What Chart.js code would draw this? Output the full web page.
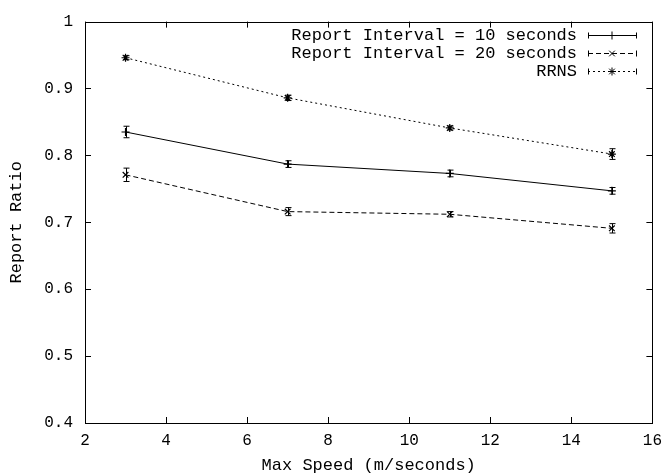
<!DOCTYPE html>
<html>
<head>
<meta charset="utf-8">
<script src="https://cdn.jsdelivr.net/npm/chart.js@4/dist/chart.umd.min.js"></script>
<style>
  html, body { margin: 0; padding: 0; background: #fff; }
  #c { display: block; }
</style>
</head>
<body>
<canvas id="c" width="670" height="476"></canvas>
<script>
const speeds = [3, 7, 11, 15];
const xTicks = [2, 4, 6, 8, 10, 12, 14, 16];
const yTicks = [0.4, 0.5, 0.6, 0.7, 0.8, 0.9, 1];

const interval10 = [0.835, 0.787, 0.773, 0.747];
const interval10Err = [0.0086, 0.005, 0.005, 0.005];
const interval20 = [0.771, 0.716, 0.712, 0.691];
const interval20Err = [0.01, 0.006, 0.004, 0.007];
const rrns = [0.946, 0.886, 0.841, 0.802];
const rrnsErr = [0.003, 0.004, 0.003, 0.008];

const labels = ["Report Interval = 10 seconds", "Report Interval = 20 seconds", "RRNS"];

const mono = "'Liberation Mono', 'Courier New', monospace";
const ink = "#000";

const series = [
  { label: labels[0], y: interval10, err: interval10Err, dash: [], style: "cross" },
  { label: labels[1], y: interval20, err: interval20Err, dash: [5, 3], style: "crossRot" },
  { label: labels[2], y: rrns, err: rrnsErr, dash: [2, 3], style: "star" },
];

// gnuplot-like frame, inward ticks, error bars and key
const gnuplotLook = {
  id: "gnuplotLook",
  afterDatasetsDraw(chart) {
    const ctx = chart.ctx;
    const a = chart.chartArea;
    const xs = chart.scales.x, ys = chart.scales.y;
    ctx.save();
    ctx.strokeStyle = ink;
    ctx.lineWidth = 1;
    ctx.setLineDash([]);

    // error bars
    chart.data.datasets.forEach((ds) => {
      ds.data.forEach((p, i) => {
        const px = Math.round(xs.getPixelForValue(p.x)) + 0.5;
        const hi = ys.getPixelForValue(p.y + ds.err[i]);
        const lo = ys.getPixelForValue(p.y - ds.err[i]);
        ctx.beginPath();
        ctx.moveTo(px, hi); ctx.lineTo(px, lo);
        ctx.moveTo(px - 3, hi); ctx.lineTo(px + 3, hi);
        ctx.moveTo(px - 3, lo); ctx.lineTo(px + 3, lo);
        ctx.stroke();
      });
    });

    // frame
    ctx.strokeRect(Math.round(a.left) + 0.5, Math.round(a.top) + 0.5,
      Math.round(a.right - a.left), Math.round(a.bottom - a.top));

    // inward ticks on all sides
    const tl = 6;
    ctx.beginPath();
    xTicks.forEach((v) => {
      const px = Math.round(xs.getPixelForValue(v)) + 0.5;
      ctx.moveTo(px, a.bottom); ctx.lineTo(px, a.bottom - tl);
      ctx.moveTo(px, a.top); ctx.lineTo(px, a.top + tl);
    });
    yTicks.forEach((v) => {
      const py = Math.round(ys.getPixelForValue(v)) + 0.5;
      ctx.moveTo(a.left, py); ctx.lineTo(a.left + tl, py);
      ctx.moveTo(a.right, py); ctx.lineTo(a.right - tl, py);
    });
    ctx.stroke();

    // key
    ctx.font = "17px " + mono;
    ctx.fillStyle = ink;
    ctx.textAlign = "right";
    ctx.textBaseline = "middle";
    const rowY = [35, 53, 71];
    const x0 = 588, x1 = 637, xm = 612;
    series.forEach((s, i) => {
      const y = rowY[i] + 0.5;
      ctx.fillText(s.label, 577, rowY[i]);
      ctx.setLineDash(s.dash);
      ctx.beginPath();
      ctx.moveTo(x0, y); ctx.lineTo(x1, y);
      ctx.stroke();
      ctx.setLineDash([]);
      ctx.beginPath();
      ctx.moveTo(x0 + 0.5, y - 3); ctx.lineTo(x0 + 0.5, y + 3);
      ctx.moveTo(x1 - 0.5, y - 3); ctx.lineTo(x1 - 0.5, y + 3);
      ctx.stroke();
      Chart.helpers.drawPoint(ctx, { pointStyle: s.style, radius: 4, rotation: 0, borderWidth: 1.2 }, xm, y);
    });
    ctx.restore();
  },
};

new Chart(document.getElementById("c").getContext("2d"), {
  type: "line",
  data: {
    datasets: series.map((s) => ({
      label: s.label,
      data: speeds.map((x, i) => ({ x: x, y: s.y[i] })),
      err: s.err,
      borderColor: ink,
      backgroundColor: ink,
      borderWidth: 1,
      borderDash: s.dash,
      pointStyle: s.style,
      pointRadius: 4,
      pointBorderWidth: 1.2,
      pointBorderColor: ink,
      tension: 0,
      fill: false,
    })),
  },
  options: {
    responsive: false,
    animation: false,
    events: [],
    layout: { padding: { top: 16, right: 16, left: 0, bottom: 0 } },
    plugins: { legend: { display: false }, tooltip: { enabled: false } },
    scales: {
      x: {
        type: "linear",
        min: 2,
        max: 16,
        afterBuildTicks: (s) => { s.ticks = xTicks.map((v) => ({ value: v })); },
        afterFit: (s) => { s.height = 53; },
        grid: { display: false, drawTicks: false },
        border: { display: false },
        ticks: { color: ink, font: { family: mono, size: 16 }, padding: 8, maxRotation: 0 },
        title: { display: true, text: "Max Speed (m/seconds)", color: ink, font: { family: mono, size: 17 }, padding: { top: 0, bottom: 0 } },
      },
      y: {
        min: 0.4,
        max: 1,
        afterBuildTicks: (s) => { s.ticks = yTicks.map((v) => ({ value: v })); },
        afterFit: (s) => { s.width = 85; },
        grid: { display: false, drawTicks: false },
        border: { display: false },
        ticks: { color: ink, font: { family: mono, size: 16 }, padding: 12, callback: (v) => String(v) },
        title: { display: true, text: "Report Ratio", color: ink, font: { family: mono, size: 17 }, padding: { top: 6, bottom: 0 } },
      },
    },
  },
  plugins: [gnuplotLook],
});
</script>
</body>
</html>
